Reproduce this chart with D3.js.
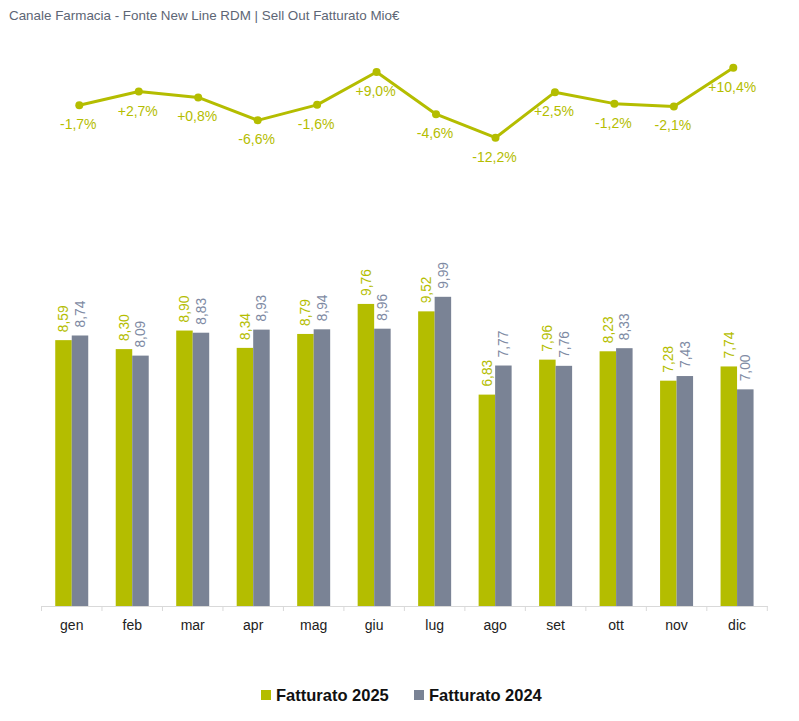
<!DOCTYPE html>
<html>
<head>
<meta charset="utf-8">
<script src="https://cdn.jsdelivr.net/npm/d3@7"></script>
<style>
  body { margin: 0; background: #fff; }
  svg text { font-family: "Liberation Sans", Arial, sans-serif; }
</style>
</head>
<body>
<svg id="chart" width="799" height="721"></svg>
<script>
// Data
var months = ["gen", "feb", "mar", "apr", "mag", "giu", "lug", "ago", "set", "ott", "nov", "dic"];
var fatturato2025 = [8.59, 8.30, 8.90, 8.34, 8.79, 9.76, 9.52, 6.83, 7.96, 8.23, 7.28, 7.74];
var fatturato2024 = [8.74, 8.09, 8.83, 8.93, 8.94, 8.96, 9.99, 7.77, 7.76, 8.33, 7.43, 7.00];
var variazione = [-1.7, 2.7, 0.8, -6.6, -1.6, 9.0, -4.6, -12.2, 2.5, -1.2, -2.1, 10.4];
var seriesNames = ["Fatturato 2025", "Fatturato 2024"];

var green = "#b4bd00";
var grey = "#7a8395";
var greyText = "#7e8aa3";

var svg = d3.select("#chart");

// title
svg.append("text")
  .attr("x", 9)
  .attr("y", 20)
  .attr("font-size", 13.4)
  .attr("fill", "#5d6675")
  .text("Canale Farmacia - Fonte New Line RDM | Sell Out Fatturato Mio\u20ac");

function fmt(v) { return v.toFixed(2).replace(".", ","); }
function fmtPct(v) { return (v > 0 ? "+" : "") + v.toFixed(1).replace(".", ",") + "%"; }

// ---- bar chart ----
var x0 = d3.scaleBand().domain(months).range([41.5, 767.3]).padding(0);
var groupW = 33;
var x1 = d3.scaleBand().domain(seriesNames).range([0, groupW]);
var y = d3.scaleLinear().domain([0, 10]).range([606, 296.5]);

var rows = months.map(function(m, i) {
  return { month: m, values: [
    { key: seriesNames[0], value: fatturato2025[i], color: green, text: green },
    { key: seriesNames[1], value: fatturato2024[i], color: grey, text: greyText }
  ] };
});

var groups = svg.selectAll(".grp")
  .data(rows)
  .enter().append("g")
  .attr("class", "grp")
  .attr("transform", function(d) {
    return "translate(" + (x0(d.month) + (x0.bandwidth() - groupW) / 2) + ",0)";
  });

groups.selectAll("rect")
  .data(function(d) { return d.values; })
  .enter().append("rect")
  .attr("x", function(d) { return x1(d.key); })
  .attr("y", function(d) { return y(d.value); })
  .attr("width", x1.bandwidth())
  .attr("height", function(d) { return y(0) - y(d.value); })
  .attr("fill", function(d) { return d.color; });

groups.selectAll("text")
  .data(function(d) { return d.values; })
  .enter().append("text")
  .attr("transform", function(d) {
    var cx = x1(d.key) + x1.bandwidth() / 2 + 5;
    return "translate(" + cx + "," + (y(d.value) - 8) + ") rotate(-90)";
  })
  .attr("font-size", 13.8)
  .attr("fill", function(d) { return d.text; })
  .text(function(d) { return fmt(d.value); });

// x axis
var axis = svg.append("g")
  .attr("transform", "translate(0," + y(0) + ")")
  .call(d3.axisBottom(x0).tickSize(0).tickSizeOuter(0).tickPadding(14));
axis.select(".domain").attr("stroke", "#d9d9d9");
axis.selectAll("text")
  .attr("font-size", 14)
  .attr("fill", "#222")
  .attr("font-family", "Liberation Sans, Arial, sans-serif");

var bounds = months.map(function(m) { return x0(m); }).concat([x0.range()[1]]);
svg.append("g")
  .selectAll("line")
  .data(bounds)
  .enter().append("line")
  .attr("x1", function(d) { return d; })
  .attr("x2", function(d) { return d; })
  .attr("y1", y(0))
  .attr("y2", y(0) + 5)
  .attr("stroke", "#d9d9d9");

// ---- line chart (variation %) ----
var xl = d3.scalePoint().domain(months).range([79.3, 733.3]);
var yl = d3.scaleLinear().domain([-12.2, 10.4]).range([137.7, 67.7]);

var line = d3.line()
  .x(function(d, i) { return xl(months[i]); })
  .y(function(d) { return yl(d); });

svg.append("path")
  .datum(variazione)
  .attr("fill", "none")
  .attr("stroke", green)
  .attr("stroke-width", 3)
  .attr("stroke-linejoin", "round")
  .attr("d", line);

svg.append("g").selectAll("circle")
  .data(variazione)
  .enter().append("circle")
  .attr("cx", function(d, i) { return xl(months[i]); })
  .attr("cy", function(d) { return yl(d); })
  .attr("r", 4)
  .attr("fill", green);

svg.append("g").selectAll("text")
  .data(variazione)
  .enter().append("text")
  .attr("x", function(d, i) { return xl(months[i]) - 1; })
  .attr("y", function(d) { return yl(d) + 24; })
  .attr("text-anchor", "middle")
  .attr("font-size", 14)
  .attr("fill", green)
  .text(function(d) { return fmtPct(d); });

// ---- legend ----
var legend = svg.append("g").attr("transform", "translate(261,690)");
var legendX = [0, 153];
seriesNames.forEach(function(name, i) {
  var g = legend.append("g").attr("transform", "translate(" + legendX[i] + ",0)");
  g.append("rect")
    .attr("width", 10).attr("height", 10)
    .attr("fill", i === 0 ? green : grey);
  g.append("text")
    .attr("x", 15)
    .attr("y", 11)
    .attr("font-size", 16.5)
    .attr("font-weight", "bold")
    .attr("fill", "#111")
    .text(name);
});
</script>
</body>
</html>
